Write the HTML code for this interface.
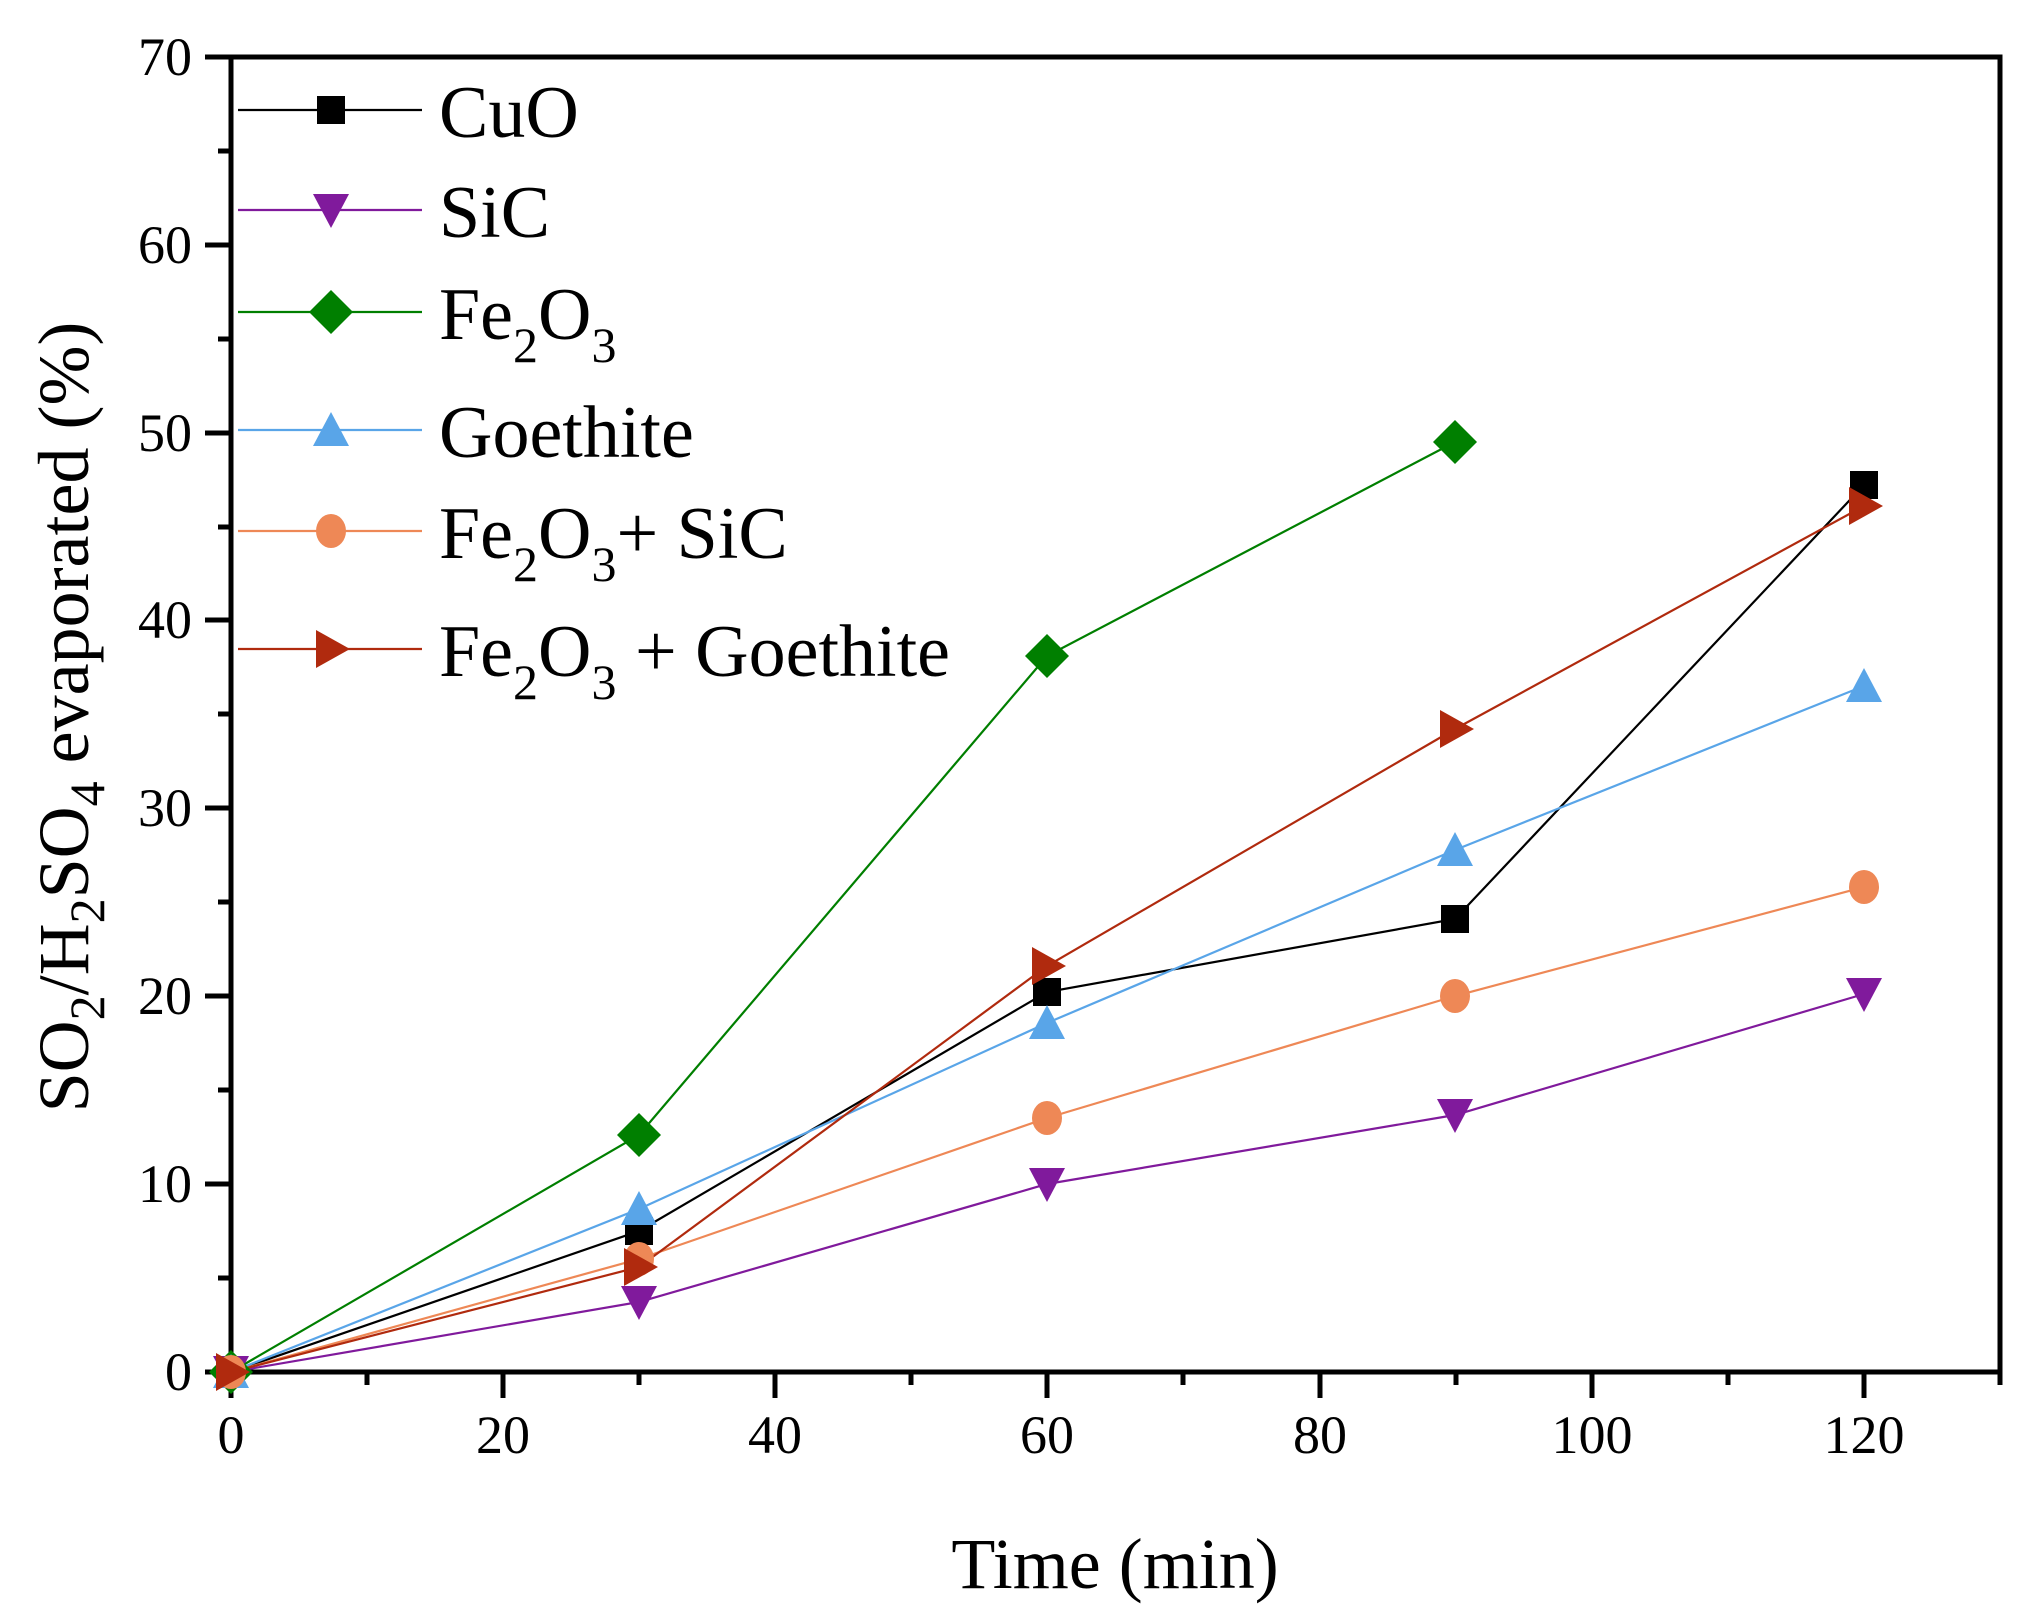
<!DOCTYPE html>
<html><head><meta charset="utf-8"><style>
html,body{margin:0;padding:0;background:#fff;}
svg{display:block;font-family:"Liberation Serif",serif;}
</style></head><body>
<svg width="2030" height="1619" viewBox="0 0 2030 1619" xmlns="http://www.w3.org/2000/svg">
<rect width="2030" height="1619" fill="#fff"/>
<g stroke="#000" stroke-width="5">
<path d="M205 57H231M205 245H231M205 433H231M205 620H231M205 808H231M205 996H231M205 1184H231M205 1372H231"/>
<path d="M218 151H231M218 339H231M218 527H231M218 714H231M218 902H231M218 1090H231M218 1278H231"/>
<path d="M231 1372V1398M503 1372V1398M775 1372V1398M1047 1372V1398M1320 1372V1398M1592 1372V1398M1864 1372V1398"/>
<path d="M367 1372V1385M639 1372V1385M911 1372V1385M1183 1372V1385M1456 1372V1385M1728 1372V1385M2000 1372V1385"/>
<path d="M205 57H2000V1372H231V57" fill="none"/>
</g>
<g font-size="54" text-anchor="end">
<text x="192" y="75">70</text><text x="192" y="263">60</text><text x="192" y="451">50</text>
<text x="192" y="638">40</text><text x="192" y="826">30</text><text x="192" y="1014">20</text>
<text x="192" y="1202">10</text><text x="192" y="1390">0</text>
</g>
<g font-size="54" text-anchor="middle">
<text x="231" y="1453">0</text><text x="503" y="1453">20</text><text x="775" y="1453">40</text>
<text x="1047" y="1453">60</text><text x="1320" y="1453">80</text><text x="1592" y="1453">100</text><text x="1864" y="1453">120</text>
</g>
<text x="1115" y="1588" font-size="72" text-anchor="middle">Time (min)</text>
<text transform="translate(88,717) rotate(-90)" font-size="72" text-anchor="middle">SO<tspan font-size="50" dy="16">2</tspan><tspan dy="-16">/H</tspan><tspan font-size="50" dy="16">2</tspan><tspan dy="-16">SO</tspan><tspan font-size="50" dy="16">4</tspan><tspan dy="-16"> evaporated (%)</tspan></text>
<g fill="none" stroke-width="2.2">
<polyline stroke="#000" points="231,1372 639,1231 1047,992 1455,919 1864,485"/>
<polyline stroke="#801a9c" points="231,1372 639,1302 1047,1184 1455,1115 1864,994"/>
<polyline stroke="#007f00" points="231,1372 639,1135 1047,656 1455,442"/>
<polyline stroke="#59a5e8" points="231,1372 639,1209 1047,1023 1455,850 1864,686"/>
<polyline stroke="#ee8856" points="231,1372 639,1259 1047,1118 1455,996 1864,887"/>
<polyline stroke="#b02a0e" points="231,1372 639,1267 1047,966 1455,729 1864,506"/>
</g>
<defs>
<rect id="sq" x="-14" y="-14" width="28" height="28" fill="#000"/>
<path id="dn" d="M-18 -16H18L0 18Z" fill="#801a9c"/>
<path id="di" d="M0 -22L22 0L0 22L-22 0Z" fill="#007f00"/>
<path id="up" d="M-18 16H18L0 -18Z" fill="#59a5e8"/>
<ellipse id="ci" rx="15" ry="17" fill="#ee8856"/>
<path id="rt" d="M-15 -19L19 0L-15 19Z" fill="#b02a0e"/>
</defs>
<use href="#sq" x="231" y="1372"/><use href="#sq" x="639" y="1231"/><use href="#sq" x="1047" y="992"/><use href="#sq" x="1455" y="919"/><use href="#sq" x="1864" y="485"/>
<use href="#dn" x="231" y="1372"/><use href="#dn" x="639" y="1302"/><use href="#dn" x="1047" y="1184"/><use href="#dn" x="1455" y="1115"/><use href="#dn" x="1864" y="994"/>
<use href="#di" x="231" y="1372"/><use href="#di" x="639" y="1135"/><use href="#di" x="1047" y="656"/><use href="#di" x="1455" y="442"/>
<use href="#up" x="231" y="1372"/><use href="#up" x="639" y="1209"/><use href="#up" x="1047" y="1023"/><use href="#up" x="1455" y="850"/><use href="#up" x="1864" y="686"/>
<use href="#ci" x="231" y="1372"/><use href="#ci" x="639" y="1259"/><use href="#ci" x="1047" y="1118"/><use href="#ci" x="1455" y="996"/><use href="#ci" x="1864" y="887"/>
<use href="#rt" x="231" y="1372"/><use href="#rt" x="639" y="1267"/><use href="#rt" x="1047" y="966"/><use href="#rt" x="1455" y="729"/><use href="#rt" x="1864" y="506"/>
<g stroke-width="2.2">
<line x1="238" y1="110" x2="422" y2="110" stroke="#000"/>
<line x1="238" y1="210" x2="422" y2="210" stroke="#801a9c"/>
<line x1="238" y1="312" x2="422" y2="312" stroke="#007f00"/>
<line x1="238" y1="430" x2="422" y2="430" stroke="#59a5e8"/>
<line x1="238" y1="531" x2="422" y2="531" stroke="#ee8856"/>
<line x1="238" y1="649" x2="422" y2="649" stroke="#b02a0e"/>
</g>
<use href="#sq" x="331" y="110"/><use href="#dn" x="331" y="210"/><use href="#di" x="331" y="312"/>
<use href="#up" x="331" y="430"/><use href="#ci" x="331" y="531"/><use href="#rt" x="331" y="649"/>
<g font-size="74">
<text x="439" y="137">CuO</text>
<text x="439" y="237">SiC</text>
<text x="439" y="339">Fe<tspan font-size="50" dy="23">2</tspan><tspan dy="-23">O</tspan><tspan font-size="50" dy="23">3</tspan></text>
<text x="439" y="457">Goethite</text>
<text x="439" y="558">Fe<tspan font-size="50" dy="23">2</tspan><tspan dy="-23">O</tspan><tspan font-size="50" dy="23">3</tspan><tspan dy="-23">+ SiC</tspan></text>
<text x="439" y="676">Fe<tspan font-size="50" dy="23">2</tspan><tspan dy="-23">O</tspan><tspan font-size="50" dy="23">3</tspan><tspan dy="-23"> + Goethite</tspan></text>
</g>
</svg>
</body></html>
